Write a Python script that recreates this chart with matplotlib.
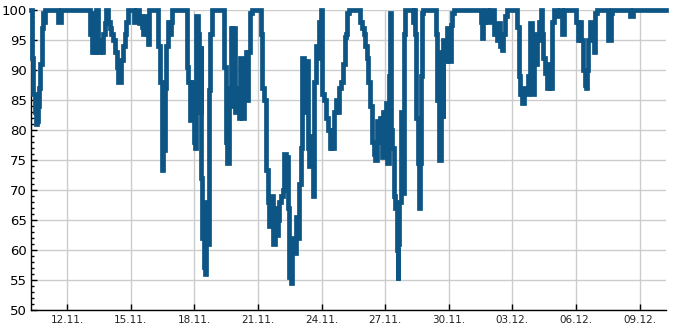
import datetime as dt
import matplotlib
matplotlib.use("Agg")
import matplotlib.pyplot as plt
import matplotlib.dates as mdates
from matplotlib.ticker import MultipleLocator

# hours since 10.11. 00:00
hours = [7, 8, 9, 11, 12, 13, 14, 15, 16, 17, 19, 20, 21, 22, 23, 38, 41,
         74, 76, 77, 79, 81, 83, 85, 87, 89, 91, 92, 94, 96, 98, 100, 102, 104,
         106, 108, 109, 111, 113, 115, 117, 124, 126, 129, 131, 133, 134, 136,
         138, 140, 141, 151, 153, 155, 157, 159, 160, 162, 164, 165, 167,
         184, 185, 187, 189, 191, 193, 194, 196, 197, 199, 200, 201, 203, 204,
         205, 207, 208, 210, 212, 226, 228, 229, 231, 233, 235, 236, 238, 240,
         242, 244, 246, 248, 250, 252, 253, 255, 257, 267, 269, 271, 273, 275,
         277, 279, 281, 283, 285, 287, 288, 290, 292, 294, 296, 298, 299, 301,
         303, 305, 307, 309, 311, 313, 314, 316, 318, 321, 322, 324, 326, 328,
         330, 331, 333, 335, 337, 339, 341, 343, 345, 347, 348, 350, 352, 354,
         356, 358, 360, 362, 364, 365, 367, 380, 382, 384, 385, 387, 389, 391,
         393, 395, 397, 399, 401, 402, 404, 405, 407, 409, 410, 412, 413, 415,
         416, 418, 419, 421, 422, 423, 424, 426, 427, 429, 430, 431, 440, 441,
         442, 443, 445, 446, 447, 449, 450, 451, 466, 467, 469, 471, 473, 474,
         476, 478, 480, 482, 484, 486, 516, 518, 519, 521, 525, 527, 531, 533,
         535, 536, 538, 540, 542, 544, 546, 557, 559, 561, 563, 565, 567, 569,
         570, 572, 574, 576, 578, 580, 582, 584, 586, 587, 589, 591, 593, 595,
         597, 599, 603, 606, 608, 610, 624, 626, 628, 630, 632, 634, 635, 637,
         638, 640, 642, 644, 646, 648, 660, 662, 664, 665, 685, 689, 726]

values = [100, 92, 86, 84, 83, 81, 81.5, 84, 87, 91, 94, 97, 99.5, 98, 100, 98, 100,
          96, 93, 99.5, 93, 100, 93, 95, 93, 96, 97.8, 100, 98, 97, 96, 95, 93, 90.5,
          88, 88, 91.7, 94, 96, 98, 100, 98, 100, 97.8, 99, 97.2, 96, 99,
          96, 94.4, 100, 94, 88, 73.3, 76.7, 87, 94, 98, 96, 98, 100,
          90.5, 88, 81.7, 88, 78, 77, 99, 96, 83, 94, 72, 62, 57.2, 56,
          68, 61, 86.7, 96, 100, 90.5, 78, 74.5, 87, 97, 84, 97, 83, 87,
          82, 92, 82, 91, 93, 85, 93, 99.5, 100, 96, 87, 85, 73.3, 68,
          64, 69, 61, 67, 62.5, 65, 68, 69, 70, 76, 75.5, 67, 55.5, 54.5,
          62, 59.5, 65.5, 62, 71, 77, 92, 83, 91.5, 77, 74, 79, 69, 88,
          94, 92, 98, 100, 86, 85, 82, 80, 77, 80, 77, 83, 85, 83,
          87, 88, 91, 95.5, 96, 99.5, 100, 98, 97, 96, 94, 92, 88, 84,
          78, 76, 75, 81.5, 78, 82, 75.5, 83, 77.5, 84.5, 74.5, 89, 99.5, 80,
          77, 69, 67, 60, 55, 61, 68, 83, 69.5, 96, 99.5, 100, 98, 100,
          96, 82, 74.5, 67, 74.5, 89, 99.5, 100, 96, 85, 75, 93, 82, 95,
          91.5, 97, 91.5, 97.5, 99.5, 100, 98, 95.3, 98, 100, 98, 100, 96, 97.2,
          95, 97.8, 94, 93.3, 96, 99, 100, 97.2, 89, 86, 84.5, 87, 87, 86,
          89, 97.8, 86, 96, 91, 95, 98, 100, 96, 92, 89.5, 87, 91, 87,
          98, 100, 99, 100, 96, 100, 98, 95, 98, 95, 90, 87.5, 87, 90,
          95, 98, 96, 93, 99.5, 100, 95, 95, 99.5, 100, 99, 100, 100]

day_ticks = ["2023-11-12", "2023-11-15", "2023-11-18", "2023-11-21", "2023-11-24",
             "2023-11-27", "2023-11-30", "2023-12-03", "2023-12-06", "2023-12-09"]

start = dt.datetime(2023, 11, 10)
times = [start + dt.timedelta(hours=h) for h in hours]

fig = plt.figure(figsize=(6.85, 3.30), dpi=100)
ax = fig.add_axes([31 / 685, 20 / 330, 635 / 685, 300 / 330])

ax.plot(times, values, drawstyle="steps-post", color="#0c5585", lw=3.4,
        solid_joinstyle="miter", clip_on=False, zorder=3)

ax.set_xlim(times[0], times[-1])
ax.set_ylim(50, 100)

ax.set_xticks([dt.datetime.strptime(d, "%Y-%m-%d") for d in day_ticks])
ax.xaxis.set_major_formatter(mdates.DateFormatter("%d.%m."))
ax.yaxis.set_major_locator(MultipleLocator(5))
ax.yaxis.set_minor_locator(MultipleLocator(1))

ax.grid(True, which="major", color="#cccccc", lw=1.0)
ax.set_axisbelow(True)

for s in ["top", "right"]:
    ax.spines[s].set_visible(False)
for s in ["left", "bottom"]:
    ax.spines[s].set_linewidth(1.0)
    ax.spines[s].set_color("black")

ax.tick_params(axis="y", which="major", direction="in", length=4, width=1,
               labelsize=9.5, pad=3)
ax.tick_params(axis="y", which="minor", direction="in", length=2.5, width=1)
ax.tick_params(axis="x", which="major", direction="in", length=4.5, width=1,
               labelsize=7.5, pad=3.5, labelcolor="#222222")
ax.tick_params(axis="x", which="minor", bottom=False)

fig.savefig("out.png", dpi=100)
